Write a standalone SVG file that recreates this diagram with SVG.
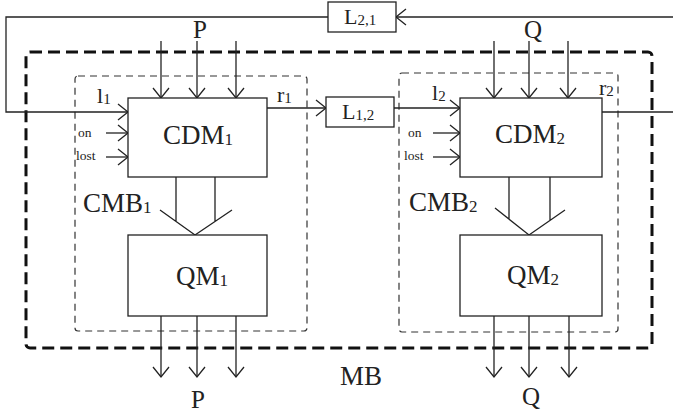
<svg xmlns="http://www.w3.org/2000/svg" width="673" height="416" viewBox="0 0 673 416">
<style>
  .box{fill:#fff;stroke:#222;stroke-width:1.3}
  .ln{fill:none;stroke:#222;stroke-width:1.3}
  .ar{fill:none;stroke:#222;stroke-width:1.3;marker-end:url(#arr)}
  .outer{fill:none;stroke:#111;stroke-width:3;stroke-dasharray:12 6}
  .inner{fill:none;stroke:#333;stroke-width:1.2;stroke-dasharray:7 5}
  text{font-family:"Liberation Serif","Times New Roman",serif;fill:#222}
  .big{font-size:27px}
  .mid{font-size:22px}
  .pq{font-size:25px;text-anchor:middle}
  .sm{font-size:13.5px}
</style>
<defs>
  <marker id="arr" viewBox="0 0 12 16" refX="11" refY="8" markerWidth="12" markerHeight="16" markerUnits="userSpaceOnUse" orient="auto" overflow="visible">
    <path d="M1,0 L11,8 L1,16" fill="none" stroke="#222" stroke-width="1.3"/>
  </marker>
</defs>
<rect width="673" height="416" fill="#fff"/>

<g id="MB">
  <rect class="outer" x="26" y="52" width="626" height="296" rx="4"/>
  <text class="big" x="340" y="385">MB</text>
</g>
<g id="CMB1">
  <rect class="inner" x="75" y="76" width="232" height="255" rx="3"/>
  <text class="big" x="83" y="212">CMB<tspan font-size="17" dy="1">1</tspan></text>
</g>
<g id="CMB2">
  <rect class="inner" x="399" y="73" width="219" height="259" rx="3"/>
  <text class="big" x="409" y="211">CMB<tspan font-size="17" dy="1">2</tspan></text>
</g>

<g id="connectors">
  <path class="ar" d="M673,17 H396"/>
  <path class="ar" d="M328,17 H6 V112 H128"/>
  <path class="ar" d="M267,108 H326"/>
  <path class="ar" d="M394,108 H460"/>
  <path class="ln" d="M602,112 H673"/>
  <path class="ar" d="M106,133 H128"/>
  <path class="ar" d="M106,157 H128"/>
  <path class="ar" d="M433,133 H460"/>
  <path class="ar" d="M433,157 H460"/>
  <path class="ar" d="M161,41 V98"/>
  <path class="ar" d="M197,41 V98"/>
  <path class="ar" d="M236,41 V98"/>
  <path class="ar" d="M494,41 V98"/>
  <path class="ar" d="M529,41 V98"/>
  <path class="ar" d="M568,41 V98"/>
  <path class="ar" d="M161,316 V377"/>
  <path class="ar" d="M197,316 V377"/>
  <path class="ar" d="M236,316 V377"/>
  <path class="ar" d="M494,316 V377"/>
  <path class="ar" d="M529,316 V377"/>
  <path class="ar" d="M569,316 V377"/>
  <path class="ln" d="M176,177 V221.4 M215,177 V221.5 M160,210 L195,235 L232,210"/>
  <path class="ln" d="M509,177 V219.1 M550,177 V220.4 M495,208 L529,235 L565,210"/>
</g>

<g id="CDM1">
  <rect class="box" x="128" y="98" width="139" height="79"/>
  <text class="big" x="163" y="144">CDM<tspan font-size="17" dy="1">1</tspan></text>
</g>
<g id="QM1">
  <rect class="box" x="128" y="235" width="139" height="81"/>
  <text class="big" x="176" y="285">QM<tspan font-size="17" dy="1">1</tspan></text>
</g>
<g id="CDM2">
  <rect class="box" x="460" y="98" width="142" height="79"/>
  <text class="big" x="495" y="143">CDM<tspan font-size="17" dy="1">2</tspan></text>
</g>
<g id="QM2">
  <rect class="box" x="460" y="235" width="142" height="81"/>
  <text class="big" x="507" y="284">QM<tspan font-size="17" dy="1">2</tspan></text>
</g>
<g id="L21">
  <rect class="box" x="328" y="2" width="68" height="30"/>
  <text class="mid" x="344" y="24">L<tspan font-size="15" dy="1">2,1</tspan></text>
</g>
<g id="L12">
  <rect class="box" x="326" y="97" width="68" height="30"/>
  <text class="mid" x="342" y="119">L<tspan font-size="15" dy="1">1,2</tspan></text>
</g>

<g id="labels">
  <text class="pq" x="200" y="38">P</text>
  <text class="pq" x="533" y="38">Q</text>
  <text class="pq" x="198" y="408">P</text>
  <text class="pq" x="531" y="405">Q</text>
  <text class="mid" x="97" y="103">l<tspan font-size="15" dy="1">1</tspan></text>
  <text class="mid" x="277" y="102">r<tspan font-size="15" dy="1">1</tspan></text>
  <text class="mid" x="432" y="100">l<tspan font-size="15" dy="1">2</tspan></text>
  <text class="mid" x="599" y="95">r<tspan font-size="15" dy="1">2</tspan></text>
  <text class="sm" x="78" y="137">on</text>
  <text class="sm" x="76" y="160">lost</text>
  <text class="sm" x="408" y="137">on</text>
  <text class="sm" x="404" y="160">lost</text>
</g>
</svg>
